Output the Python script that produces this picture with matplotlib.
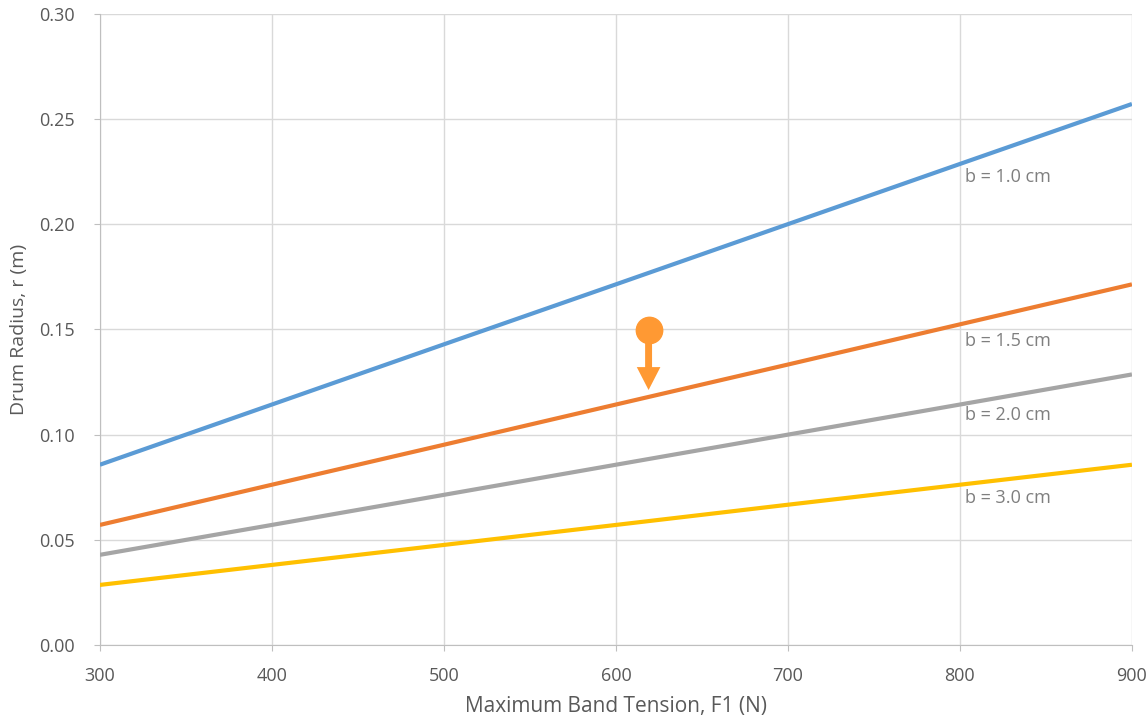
import matplotlib.pyplot as plt

# values
tension = [300, 400, 500, 600, 700, 800, 900]
r_b10 = [0.0857, 0.1143, 0.1429, 0.1714, 0.2000, 0.2286, 0.2571]
r_b15 = [0.0571, 0.0762, 0.0952, 0.1143, 0.1333, 0.1524, 0.1714]
r_b20 = [0.0429, 0.0571, 0.0714, 0.0857, 0.1000, 0.1143, 0.1286]
r_b30 = [0.0286, 0.0381, 0.0476, 0.0571, 0.0667, 0.0762, 0.0857]
labels = ["b = 1.0 cm", "b = 1.5 cm", "b = 2.0 cm", "b = 3.0 cm"]
label_pos = [(803, 0.2225), (803, 0.1445), (803, 0.1094), (803, 0.0699)]
marker_start = (619, 0.1498)
marker_end = (619, 0.1212)

plt.rcParams['font.family'] = ['Open Sans', 'DejaVu Sans']

fig, ax = plt.subplots(figsize=(11.48, 7.2), dpi=100)
fig.subplots_adjust(left=0.087, right=0.986, bottom=0.104, top=0.981)

series = [r_b10, r_b15, r_b20, r_b30]
colors = ["#5B9BD5", "#ED7D31", "#A5A5A5", "#FFC000"]
for ys, c in zip(series, colors):
    ax.plot(tension, ys, color=c, linewidth=3, solid_capstyle='butt', zorder=3)

for txt, (x, y) in zip(labels, label_pos):
    ax.text(x, y, txt, fontsize=13, color="#7F7F7F", ha='left', va='center')

# orange marker with arrow
ax.annotate("", xy=marker_end, xytext=marker_start,
            arrowprops=dict(width=5, headwidth=17, headlength=16.5,
                            facecolor="#FF9933", edgecolor="none", linewidth=0,
                            shrink=0),
            zorder=5)
ax.plot(*marker_start, 'o', color="#FF9933", markersize=19, zorder=6)

ax.set_xlim(300, 900)
ax.set_ylim(0, 0.30)
ax.set_xticks(tension)
ax.set_yticks([0.0, 0.05, 0.10, 0.15, 0.20, 0.25, 0.30])
ax.yaxis.set_major_formatter(plt.FormatStrFormatter('%.2f'))
ax.grid(True, color="#D9D9D9", linewidth=1)
ax.set_axisbelow(True)
for s in ['top', 'right']:
    ax.spines[s].set_visible(False)
for s in ['left', 'bottom']:
    ax.spines[s].set_color("#BFBFBF")
ax.tick_params(axis='both', colors="#BFBFBF", labelcolor="#595959", labelsize=13, length=4)
ax.tick_params(axis='x', pad=12)
ax.tick_params(axis='y', pad=14)

ax.set_xlabel("Maximum Band Tension, F1 (N)", fontsize=15, color="#595959", labelpad=8)
ax.set_ylabel("Drum Radius, r (m)", fontsize=14, color="#595959", labelpad=8)

fig.savefig("out.png", dpi=100)
